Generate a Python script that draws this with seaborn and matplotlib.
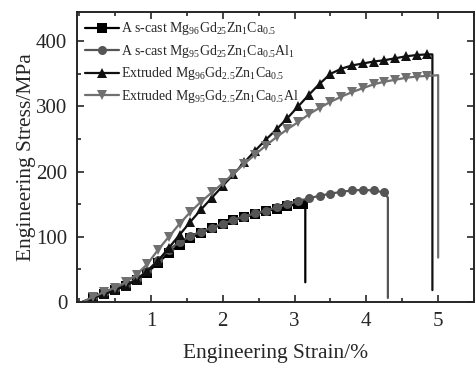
import matplotlib
matplotlib.use("Agg")
import matplotlib.pyplot as plt
import seaborn as sns
import pandas as pd
from matplotlib.ticker import MultipleLocator

# As-cast Mg96Gd2.5Zn1Ca0.5
strain_cast = [0.05, 0.2, 0.35, 0.5, 0.65, 0.8, 0.95, 1.1, 1.25, 1.4, 1.55, 1.7, 1.85, 2.0, 2.15,
               2.3, 2.45, 2.6, 2.75, 2.9, 3.05, 3.12, 3.15, 3.15]
stress_cast = [0, 6, 12, 18, 25, 33, 45, 60, 75, 88, 98, 106, 113, 119, 125,
               130, 135, 139, 143, 147, 150, 151, 145, 30]

# As-cast Mg95Gd2.5Zn1Ca0.5Al1
strain_cast_al = [0.05, 0.2, 0.35, 0.5, 0.65, 0.8, 0.95, 1.1, 1.25, 1.4, 1.55, 1.7, 1.85, 2.0, 2.15,
                  2.3, 2.45, 2.6, 2.75, 2.9, 3.05, 3.2, 3.35, 3.5, 3.65, 3.8, 3.95, 4.1, 4.25, 4.3, 4.3]
stress_cast_al = [0, 7, 13, 19, 26, 35, 48, 64, 80, 92, 101, 108, 114, 120, 126,
                  131, 136, 140, 145, 150, 155, 159, 163, 166, 169, 171, 172, 171, 168, 160, 6]

# Extruded Mg96Gd2.5Zn1Ca0.5
strain_ext = [0.05, 0.2, 0.35, 0.5, 0.65, 0.8, 0.95, 1.1, 1.25, 1.4, 1.55, 1.7, 1.85, 2.0, 2.15,
              2.3, 2.45, 2.6, 2.75, 2.9, 3.05, 3.2, 3.35, 3.5, 3.65, 3.8, 3.95, 4.1, 4.25,
              4.4, 4.55, 4.7, 4.85, 4.92, 4.92]
stress_ext = [0, 6, 12, 18, 25, 34, 47, 63, 83, 103, 123, 142, 160, 178, 196,
              214, 232, 249, 265, 282, 300, 318, 335, 350, 358, 363, 366, 369, 371,
              374, 377, 379, 380, 380, 18]

# Extruded Mg95Gd2.5Zn1Ca0.5Al
strain_ext_al = [0.05, 0.2, 0.35, 0.5, 0.65, 0.8, 0.95, 1.1, 1.25, 1.4, 1.55, 1.7, 1.85, 2.0, 2.15,
                 2.3, 2.45, 2.6, 2.75, 2.9, 3.05, 3.2, 3.35, 3.5, 3.65, 3.8, 3.95, 4.1, 4.25,
                 4.4, 4.55, 4.7, 4.85, 5.0, 5.0]
stress_ext_al = [0, 8, 15, 22, 30, 42, 58, 80, 100, 120, 138, 154, 168, 182, 197,
                 212, 226, 240, 253, 265, 276, 288, 298, 307, 315, 322, 328, 334, 338,
                 341, 344, 346, 347, 348, 68]

labels = [r"A s-cast Mg$_{96}$Gd$_{25}$Zn$_{1}$Ca$_{0.5}$",
          r"A s-cast Mg$_{95}$Gd$_{25}$Zn$_{1}$Ca$_{0.5}$Al$_{1}$",
          r"Extruded Mg$_{96}$Gd$_{2.5}$Zn$_{1}$Ca$_{0.5}$",
          r"Extruded Mg$_{95}$Gd$_{2.5}$Zn$_{1}$Ca$_{0.5}$Al"]

sns.set_style("ticks")
plt.rcParams["font.family"] = ["Liberation Serif", "DejaVu Serif"]
plt.rcParams["mathtext.fontset"] = "custom"
plt.rcParams["mathtext.rm"] = "Liberation Serif"
plt.rcParams["mathtext.it"] = "Liberation Serif:italic"

fig = plt.figure(figsize=(4.75, 3.65), dpi=100)
ax = fig.add_axes([0.162, 0.173, 0.836, 0.794])

curves = [(strain_cast, stress_cast, "s", "#000000"),
          (strain_cast_al, stress_cast_al, "o", "#555555"),
          (strain_ext, stress_ext, "^", "#111111"),
          (strain_ext_al, stress_ext_al, "v", "#707070")]

for (sx, sy, mk, col), lab in zip(curves, labels):
    df = pd.DataFrame({"strain": sx, "stress": sy})
    sns.lineplot(data=df, x="strain", y="stress", sort=False, estimator=None, ax=ax,
                 color=col, lw=1.6, marker=mk, markersize=6.5, markeredgewidth=0,
                 markevery=list(range(1, len(sx) - 2)), label=lab)

ax.set_xlim(-0.03, 5.5)
ax.set_ylim(0, 445)
ax.xaxis.set_major_locator(MultipleLocator(1))
ax.xaxis.set_minor_locator(MultipleLocator(0.5))
ax.yaxis.set_major_locator(MultipleLocator(100))
ax.yaxis.set_minor_locator(MultipleLocator(50))
ax.set_xticks([1, 2, 3, 4, 5])
ax.tick_params(which="both", direction="in", top=True, right=True, labelsize=15, width=1.2)
ax.tick_params(which="major", length=5, pad=7)
ax.tick_params(which="minor", length=3)
for s in ax.spines.values():
    s.set_linewidth(1.4)

ax.set_xlabel("Engineering Strain/%", fontsize=15.5, labelpad=10)
ax.set_ylabel("Engineering Stress/MPa", fontsize=15.5, labelpad=0)

ax.legend(loc="upper left", frameon=False, fontsize=10, handlelength=2.4,
          handletextpad=0.2, labelspacing=0.4, borderaxespad=0.2)

fig.savefig("out.png", dpi=100)
